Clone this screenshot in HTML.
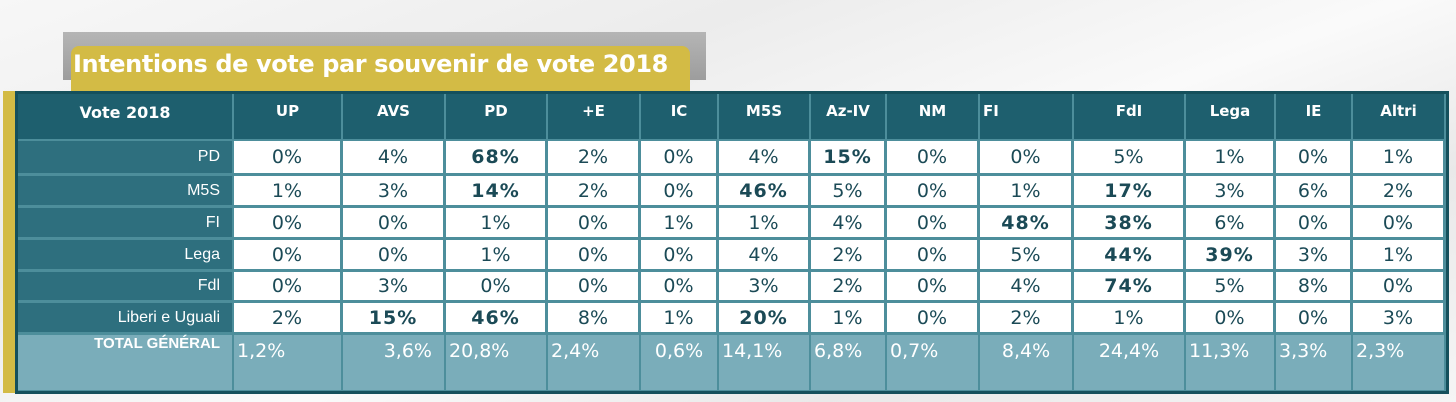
<!DOCTYPE html>
<html><head><meta charset="utf-8"><style>
body{margin:0;width:1456px;height:402px;overflow:hidden;background:linear-gradient(160deg,#f7f7f7 0%,#ececec 30%,#fafafa 55%,#e9e9e9 75%,#f5f5f5 100%);font-family:"DejaVu Sans","Liberation Sans",sans-serif;position:relative}
.a{position:absolute;box-sizing:border-box}
.c{display:flex;align-items:center;justify-content:center;color:#1b4a56;font-size:19px}
.h{color:#fff;font-weight:bold;font-size:15px;justify-content:center;align-items:flex-start;padding-top:8px}
.l{color:#fff;font-family:"Liberation Sans",sans-serif;font-size:16px;justify-content:flex-end;padding-right:12px}
</style></head><body>
<div class="a" style="left:63px;top:32px;width:643px;height:48px;background:linear-gradient(#b5b5b5,#9d9d9d)"></div>
<div class="a" style="left:71px;top:46px;width:619px;height:45px;background:#d3bb45;border-radius:8px 8px 0 0;color:#fff;font-family:'DejaVu Sans',sans-serif;font-weight:bold;font-size:24px;padding:4px 0 0 2px;white-space:nowrap;letter-spacing:-0.4px">Intentions de vote par souvenir de vote 2018</div>
<div class="a" style="left:3px;top:91px;width:12px;height:302px;background:#d3bb45"></div>
<div class="a" id="tbl" style="left:15px;top:91px;width:1434px;height:303px;background:#4d8e9b;border:3px solid #15505c"></div>
<script>
const cols=["UP","AVS","PD","+E","IC","M5S","Az-IV","NM","FI","FdI","Lega","IE","Altri"];
const rows=["PD","M5S","FI","Lega","Fdl","Liberi e Uguali"];
const vals=[
["0%","4%","68%","2%","0%","4%","15%","0%","0%","5%","1%","0%","1%"],
["1%","3%","14%","2%","0%","46%","5%","0%","1%","17%","3%","6%","2%"],
["0%","0%","1%","0%","1%","1%","4%","0%","48%","38%","6%","0%","0%"],
["0%","0%","1%","0%","0%","4%","2%","0%","5%","44%","39%","3%","1%"],
["0%","3%","0%","0%","0%","3%","2%","0%","4%","74%","5%","8%","0%"],
["2%","15%","46%","8%","1%","20%","1%","0%","2%","1%","0%","0%","3%"]];
const bold=[[2,6],[2,5,9],[8,9],[9,10],[9],[1,2,5]];
const totals=["1,2%","3,6%","20,8%","2,4%","0,6%","14,1%","6,8%","0,7%","8,4%","24,4%","11,3%","3,3%","2,3%"];
const xs=[18,234,343,446,548,641,719,811,887,980,1074,1186,1276,1353,1446];
const ys=[94,141,176,208,240,272,303,335,390];
const totalAlign=["l","r","l","l","c","l","l","l","c","c","l","l","l"];
function box(x,y,w,h,bg,cls,txt){const d=document.createElement('div');d.className='a c '+(cls||'');d.style.cssText=`left:${x}px;top:${y}px;width:${w}px;height:${h}px;background:${bg}`;d.textContent=txt;document.body.appendChild(d);return d;}
let d=box(xs[0],ys[0],xs[1]-xs[0]-2,ys[1]-ys[0]-2,'#1e5f6e','h','Vote 2018');
d.style.fontSize='16px';d.style.alignItems='center';d.style.paddingTop='0';d.style.paddingBottom='8px';


cols.forEach((c,i)=>{const e=box(xs[i+1],ys[0],xs[i+2]-xs[i+1]-2,ys[1]-ys[0]-2,'#1e5f6e','h',c);
if(c==='FI'){e.style.justifyContent='flex-start';e.style.paddingLeft='3px';}

});
rows.forEach((r,j)=>{const y=ys[j+1],h=ys[j+2]-ys[j+1]-3;
const e=box(xs[0],y,xs[1]-xs[0]-2,h,'#2e6f7e','l',r);


vals[j].forEach((v,i)=>{const c=box(xs[i+1],y,xs[i+2]-xs[i+1]-3,h,'#fff','',v);
if(bold[j].includes(i)){c.style.fontWeight='bold';c.style.letterSpacing='1px';}

});});
const ty=ys[7],th=ys[8]-ys[7];
d=box(xs[0],ty,xs[1]-xs[0]-2,th,'#7aadba','l','TOTAL GÉNÉRAL');
d.style.alignItems='flex-start';d.style.fontWeight='bold';d.style.fontSize='15px';


totals.forEach((t,i)=>{const e=box(xs[i+1],ty,xs[i+2]-xs[i+1]-2,th,'#7aadba','',t);
e.style.color='#fff';e.style.alignItems='flex-start';e.style.paddingTop='5px';e.style.fontSize='19px';
const a=totalAlign[i];e.style.justifyContent=a=='l'?'flex-start':a=='r'?'flex-end':'center';
e.style.paddingLeft=a=='l'?'3px':'0';e.style.paddingRight=a=='r'?'12px':'0';

});
</script>
</body></html>
